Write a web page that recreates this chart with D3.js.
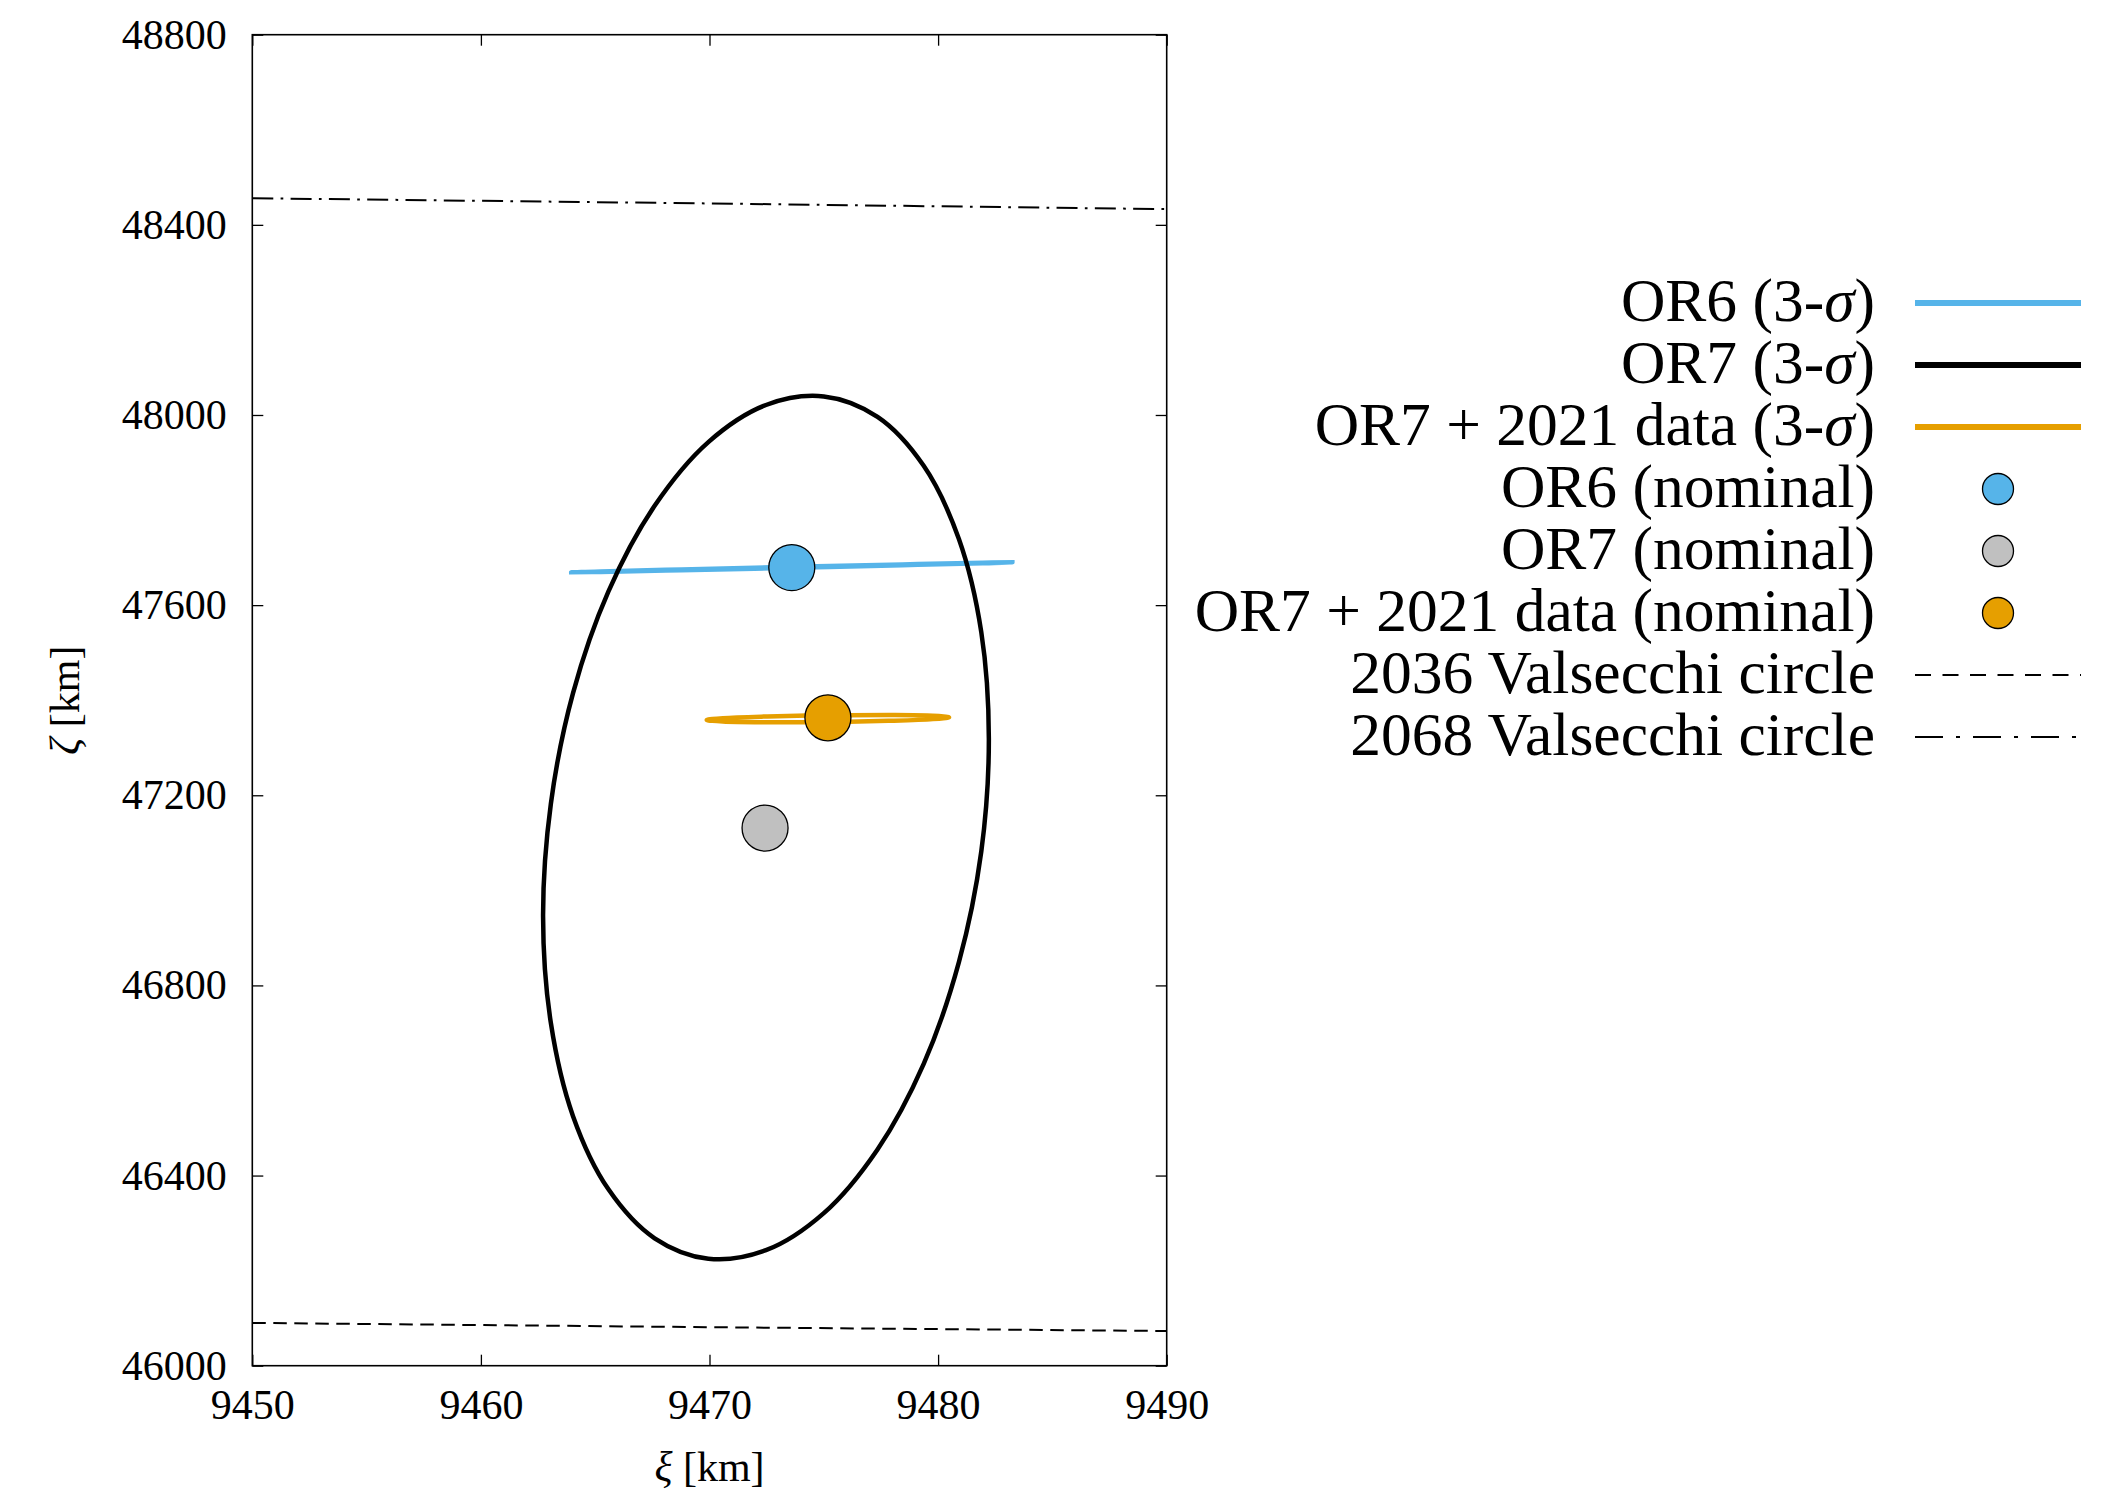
<!DOCTYPE html>
<html>
<head>
<meta charset="utf-8">
<script src="https://cdn.jsdelivr.net/npm/d3@7"></script>
<style>
	body { margin: 0; background: #fff; }
	svg text { font-family: "Liberation Serif", "Times New Roman", serif; fill: #000; }
</style>
</head>
<body>
<svg id="chart" width="2115" height="1491"></svg>
<script>
const xTicks = [9450, 9460, 9470, 9480, 9490];
const yTicks = [46000, 46400, 46800, 47200, 47600, 48000, 48400, 48800];

// 3-sigma regions, [xi, zeta] points
const or6Region = [
	[9483.25, 47690.0], [9481.96, 47689.1], [9478.43, 47685.6], [9473.60, 47680.5],
	[9468.77, 47675.1], [9465.24, 47670.9], [9463.95, 47669.0], [9465.24, 47669.9],
	[9468.77, 47673.4], [9473.60, 47678.5], [9478.43, 47683.9], [9481.96, 47688.1],
];
const or7Region = [
	[9482.22, 47319], [9481.89, 47543], [9480.91, 47739], [9479.37, 47893],
	[9477.35, 47996], [9475.00, 48039], [9472.47, 48021], [9469.95, 47943],
	[9467.60, 47809], [9465.58, 47629], [9464.03, 47415], [9463.06, 47182],
	[9462.72, 46945], [9463.06, 46721], [9464.03, 46525], [9465.58, 46371],
	[9467.60, 46268], [9469.95, 46225], [9472.47, 46243], [9475.00, 46321],
	[9477.35, 46455], [9479.37, 46635], [9480.91, 46849], [9481.89, 47082],
];
const or7dataRegion = [
	[9480.48, 47364.0], [9479.77, 47367.2], [9477.83, 47368.7], [9475.18, 47368.2],
	[9472.53, 47365.8], [9470.59, 47362.2], [9469.88, 47358.3], [9470.59, 47355.2],
	[9472.53, 47353.7], [9475.18, 47354.2], [9477.83, 47356.6], [9479.77, 47360.2],
];

// nominal solutions
const nominalNames = ['OR6 (nominal)', 'OR7 (nominal)', 'OR7 + 2021 data (nominal)'];
const nominalXi = [9473.60, 9472.43, 9475.18];
const nominalZeta = [47679, 47131, 47363];
const nominalColors = ['#56b4e9', '#c0c0c0', '#e69f00'];

// Valsecchi circles (arcs through the window)
const valsecchi2036 = [[9450, 46090], [9470, 46081], [9490, 46073]];
const valsecchi2068 = [[9450, 48456], [9470, 48445], [9490, 48433]];

const W = 2115, H = 1491;
const margin = {left: 252.3, top: 34.7, right: W - 1166.7, bottom: H - 1365.7};
const pw = W - margin.left - margin.right;
const ph = H - margin.top - margin.bottom;
const SERIF = '"Liberation Serif", "Times New Roman", serif';

const svg = d3.select('#chart');
const g = svg.append('g').attr('transform', `translate(${margin.left},${margin.top})`);

const x = d3.scaleLinear().domain([9450, 9490]).range([0, pw]);
const y = d3.scaleLinear().domain([46000, 48800]).range([ph, 0]);

const TICK = 11;
const fontTick = 42;

// axes
const styleAxis = sel => {
	sel.attr('font-family', null).attr('font-size', null);
	sel.select('.domain').remove();
	sel.selectAll('.tick line').attr('stroke', '#000').attr('stroke-width', 1.3);
	sel.selectAll('.tick text')
		.style('font-family', SERIF)
		.style('font-size', fontTick + 'px');
};
g.append('g')
	.call(d3.axisLeft(y).tickValues(yTicks).tickSize(-TICK).tickPadding(25.6).tickFormat(d3.format('d')))
	.call(styleAxis);
g.append('g').attr('transform', `translate(${pw},0)`)
	.call(d3.axisRight(y).tickValues(yTicks).tickSize(-TICK).tickFormat(''))
	.call(styleAxis);
g.append('g').attr('transform', `translate(0,${ph})`)
	.call(d3.axisBottom(x).tickValues(xTicks).tickSize(-TICK).tickPadding(23).tickFormat(d3.format('d')))
	.call(styleAxis);
g.append('g')
	.call(d3.axisTop(x).tickValues(xTicks).tickSize(-TICK).tickFormat(''))
	.call(styleAxis);

g.append('rect')
	.attr('width', pw).attr('height', ph)
	.attr('fill', 'none').attr('stroke', '#000').attr('stroke-width', 1.6);

// axis titles
svg.append('text')
	.attr('x', margin.left + pw / 2).attr('y', 1481)
	.attr('text-anchor', 'middle').style('font-size', fontTick + 'px')
	.call(t => {
		t.append('tspan').attr('font-style', 'italic').text('ξ');
		t.append('tspan').text(' [km]');
	});
svg.append('text')
	.attr('transform', `translate(79,${margin.top + ph / 2}) rotate(-90)`)
	.attr('text-anchor', 'middle').style('font-size', fontTick + 'px')
	.call(t => {
		t.append('tspan').attr('font-style', 'italic').text('ζ');
		t.append('tspan').text(' [km]');
	});

// regions
const closed = d3.line().x(d => x(d[0])).y(d => y(d[1])).curve(d3.curveCatmullRomClosed.alpha(0.5));
const open = d3.line().x(d => x(d[0])).y(d => y(d[1]));

const regions = [
	{name: 'OR6 (3-σ)', pts: or6Region, color: '#56b4e9'},
	{name: 'OR7 (3-σ)', pts: or7Region, color: '#000000'},
	{name: 'OR7 + 2021 data (3-σ)', pts: or7dataRegion, color: '#e69f00'},
];
g.selectAll('path.region')
	.data(regions)
	.join('path')
	.attr('class', 'region')
	.attr('d', d => closed(d.pts))
	.attr('fill', 'none')
	.attr('stroke', d => d.color)
	.attr('stroke-width', 4.5);

// nominal points
const nominals = nominalNames.map((name, i) => ({name, xi: nominalXi[i], zeta: nominalZeta[i], color: nominalColors[i]}));
g.selectAll('circle.nominal')
	.data(nominals)
	.join('circle')
	.attr('class', 'nominal')
	.attr('cx', d => x(d.xi))
	.attr('cy', d => y(d.zeta))
	.attr('r', 23)
	.attr('fill', d => d.color)
	.attr('stroke', '#000')
	.attr('stroke-width', 1.3);

// Valsecchi circles
const circles = [
	{name: '2036 Valsecchi circle', pts: valsecchi2036, dash: '13.5,7.5', legendDash: '16,11.5'},
	{name: '2068 Valsecchi circle', pts: valsecchi2068, dash: '21,7.3,2.7,7.3', legendDash: '28,13,4,13'},
];
g.selectAll('path.valsecchi')
	.data(circles)
	.join('path')
	.attr('class', 'valsecchi')
	.attr('d', d => open(d.pts))
	.attr('fill', 'none')
	.attr('stroke', '#000')
	.attr('stroke-width', 2)
	.attr('stroke-dasharray', d => d.dash);

// legend
const legendItems = [
	...regions.map(d => ({type: 'line', name: d.name, color: d.color})),
	...nominals.map(d => ({type: 'point', name: d.name, color: d.color})),
	...circles.map(d => ({type: 'dash', name: d.name, dash: d.legendDash})),
];
const lx0 = 1915, lx1 = 2081, ltext = 1875, ly0 = 303, lstep = 62;
const rows = svg.append('g').selectAll('g')
	.data(legendItems)
	.join('g')
	.attr('transform', (d, i) => `translate(0,${ly0 + i * lstep})`);

rows.append('text')
	.attr('x', ltext).attr('y', 0).attr('dy', '0.3em')
	.attr('text-anchor', 'end').style('font-size', '61.5px')
	.each(function (d) {
		const t = d3.select(this);
		const parts = d.name.split('σ');
		t.append('tspan').text(parts[0]);
		if (parts.length > 1) {
			t.append('tspan').attr('font-style', 'italic').text('σ');
			t.append('tspan').text(parts[1]);
		}
	});

rows.filter(d => d.type === 'line').append('line')
	.attr('x1', lx0).attr('x2', lx1)
	.attr('stroke', d => d.color).attr('stroke-width', 6);
rows.filter(d => d.type === 'dash').append('line')
	.attr('x1', lx0).attr('x2', lx1)
	.attr('stroke', '#000').attr('stroke-width', 2)
	.attr('stroke-dasharray', d => d.dash);
rows.filter(d => d.type === 'point').append('circle')
	.attr('cx', (lx0 + lx1) / 2).attr('r', 15.5)
	.attr('fill', d => d.color).attr('stroke', '#000').attr('stroke-width', 1.3);
</script>
</body>
</html>
